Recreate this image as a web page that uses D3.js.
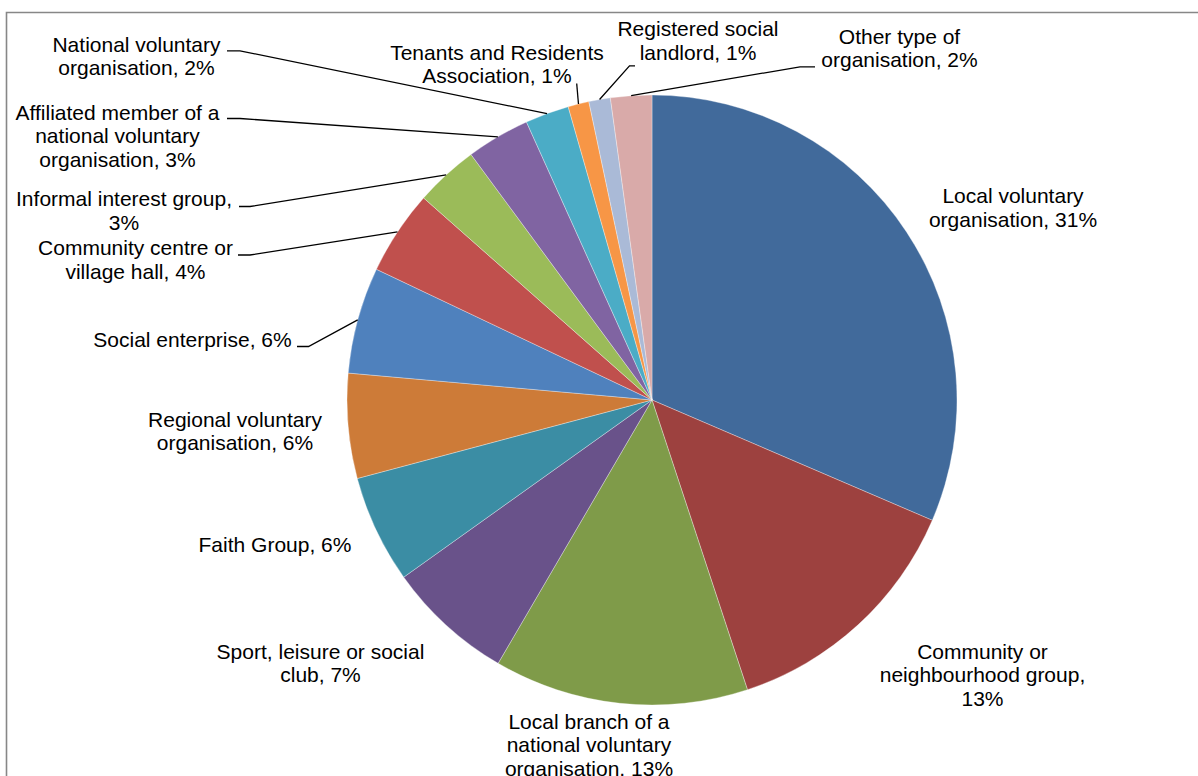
<!DOCTYPE html>
<html>
<head>
<meta charset="utf-8">
<script src="https://cdn.jsdelivr.net/npm/d3@7"></script>
<style>
  html, body { margin: 0; padding: 0; background: #fff; }
  svg { display: block; }
  text { font-family: "Liberation Sans", Arial, sans-serif; font-size: 21px; fill: #000; }
</style>
</head>
<body>
<svg id="chart" width="1198" height="776"></svg>
<script>
// ---- Data (clockwise from 12 o'clock) ----
const categories = [
  "Local voluntary organisation",
  "Community or neighbourhood group",
  "Local branch of a national voluntary organisation",
  "Sport, leisure or social club",
  "Faith Group",
  "Regional voluntary organisation",
  "Social enterprise",
  "Community centre or village hall",
  "Informal interest group",
  "Affiliated member of a national voluntary organisation",
  "National voluntary organisation",
  "Tenants and Residents Association",
  "Registered social landlord",
  "Other type of organisation"
];
const values = [31.45, 13.48, 13.48, 6.72, 5.72, 5.55, 5.64, 4.48, 3.36, 3.36, 2.32, 1.11, 1.14, 2.18];
const colors = ["#416A9B", "#9D413F", "#7F9B49", "#69528A", "#3B8DA4", "#CD7B38",
                "#4F81BD", "#C0504D", "#9BBB59", "#8064A2", "#4BACC6", "#F79646",
                "#AABAD7", "#D9AAA9"];

// label line breaks (text content) as shown in the chart
const labelLines = [
  ["Local voluntary", "organisation, {p}"],
  ["Community or", "neighbourhood group,", "{p}"],
  ["Local branch of a", "national voluntary", "organisation, {p}"],
  ["Sport, leisure or social", "club, {p}"],
  ["Faith Group, {p}"],
  ["Regional voluntary", "organisation, {p}"],
  ["Social enterprise, {p}"],
  ["Community centre or", "village hall, {p}"],
  ["Informal interest group,", "{p}"],
  ["Affiliated member of a", "national voluntary", "organisation, {p}"],
  ["National voluntary", "organisation, {p}"],
  ["Tenants and Residents", "Association, {p}"],
  ["Registered social", "landlord, {p}"],
  ["Other type of", "organisation, {p}"]
];

// ---- Layout (positions only) ----
const cx = 652, cy = 400, R = 305;
const lineH = 23.8;
// label: center x, first baseline y, leader stub [xText, xElbow, y] or null
const labelLayout = [
  {x: 1013, y: 203, stub: null},
  {x: 982.5, y: 658.5, stub: null},
  {x: 589, y: 728.5, stub: null},
  {x: 320.5, y: 658.5, stub: null},
  {x: 275, y: 551.5, stub: null},
  {x: 235, y: 426.5, stub: null},
  {x: 192.5, y: 346.5, stub: [297, 308.5, 346.5]},
  {x: 135.5, y: 255, stub: [238, 250, 255]},
  {x: 124, y: 206, stub: [239, 250, 206.5]},
  {x: 117.5, y: 119.5, stub: [227, 240, 118.5]},
  {x: 136.5, y: 51.5, stub: [227, 240, 50.8]},
  {x: 497, y: 59.5, stub: [576.7, 576.7, 83.5]},
  {x: 698, y: 36, stub: [635, 629.5, 65.8]},
  {x: 899.5, y: 43.5, stub: [815, 800, 66.8]}
];

const svg = d3.select("#chart");

// frame
svg.append("path")
  .attr("d", "M6.5,800 L6.5,12.5 L1210,12.5")
  .attr("fill", "none")
  .attr("stroke", "#878787")
  .attr("stroke-width", 1.6);

const data = categories.map((c, i) => ({name: c, value: values[i], i}));
const total = d3.sum(values);

const pie = d3.pie().value(d => d.value).sort(null);
const arcs = pie(data);
const arc = d3.arc().innerRadius(0).outerRadius(R);

const g = svg.append("g").attr("transform", `translate(${cx},${cy})`);
g.selectAll("path.slice")
  .data(arcs)
  .enter().append("path")
  .attr("class", "slice")
  .attr("d", arc)
  .attr("fill", d => colors[d.data.i])
  .attr("stroke", "rgba(255,255,255,0.55)")
  .attr("stroke-width", 0.6);

// leader lines
arcs.forEach((a, i) => {
  const L = labelLayout[i];
  if (!L.stub) return;
  const mid = (a.startAngle + a.endAngle) / 2;
  const px = cx + R * Math.sin(mid);
  const py = cy - R * Math.cos(mid);
  const [x1, x2, y] = L.stub;
  svg.append("path")
    .attr("d", `M${x1},${y} L${x2},${y} L${px},${py}`)
    .attr("fill", "none")
    .attr("stroke", "#000")
    .attr("stroke-width", 1.3);
});

// labels
arcs.forEach((a, i) => {
  const L = labelLayout[i];
  const pct = Math.round(a.data.value / total * 100) + "%";
  const t = svg.append("text")
    .attr("text-anchor", "middle");
  labelLines[i].forEach((ln, k) => {
    t.append("tspan")
      .attr("x", L.x)
      .attr("y", L.y + k * lineH)
      .text(ln.replace("{p}", pct));
  });
});
</script>
</body>
</html>
